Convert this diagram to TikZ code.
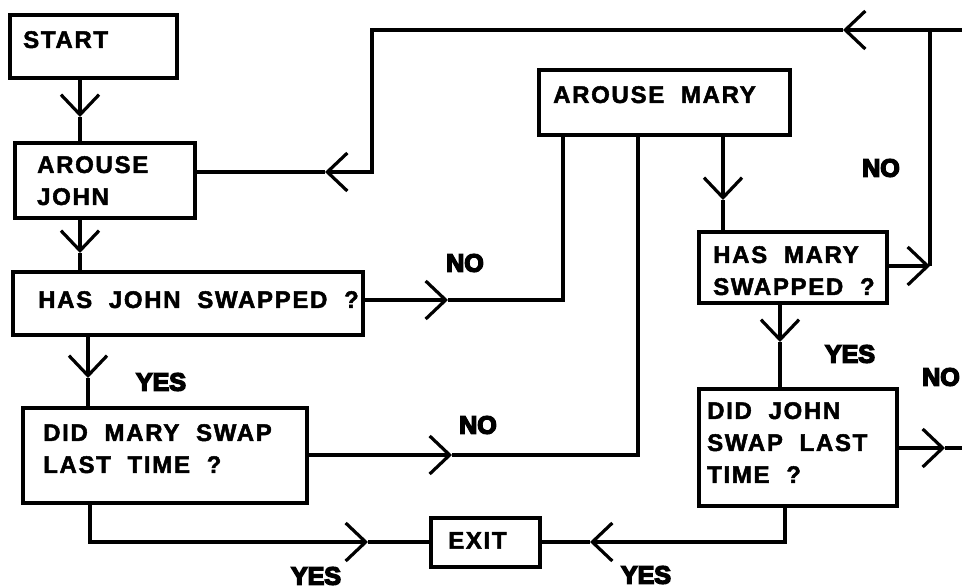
\documentclass[tikz,border=0pt]{standalone}
\usepackage{fontspec}
\setmainfont{Liberation Sans}
\newfontfamily\boxfont{Liberation Sans Bold}[LetterSpace=7, FakeBold=2]
\newfontfamily\tagfont{Liberation Sans Bold}[FakeBold=6]
\usetikzlibrary{arrows.meta}

\tikzset{
  box/.style={draw, line width=3.2pt, rectangle, anchor=north west, inner sep=0pt, outer sep=0pt},
  boxtext/.style={anchor=north west, align=left, inner sep=0pt, font=\boxfont\fontsize{24}{32}\selectfont},
  tag/.style={inner sep=0pt, font=\tagfont\fontsize{25}{25}\selectfont},
  wire/.style={line width=3.2pt},
  flow/.style={wire, -{Straight Barb[length=20pt, width=38pt]}}
}

\begin{document}
\begin{tikzpicture}[x=1pt, y=-1pt]
  \useasboundingbox (0,0) rectangle (962,588);
  % boxes
  \node[box, minimum width=167pt, minimum height=63pt]  (start) at (10,15)   {};
  \node[box, minimum width=180pt, minimum height=75pt]  (aj)    at (15,143)  {};
  \node[box, minimum width=350pt, minimum height=63pt]  (hjs)   at (13,272)  {};
  \node[box, minimum width=284pt, minimum height=95pt]  (dms)   at (23,408)  {};
  \node[box, minimum width=109pt, minimum height=49pt]  (exit)  at (431,518) {};
  \node[box, minimum width=251pt, minimum height=65pt]  (am)    at (539,70)  {};
  \node[box, minimum width=188pt, minimum height=71pt]  (hms)   at (699,232) {};
  \node[box, minimum width=198pt, minimum height=117pt] (djs)   at (699,389) {};
  % box texts
  \node[boxtext] (startT) at (23,31)   {START};
  \node[boxtext] (ajT)    at (37,156)  {AROUSE\\JOHN};
  \node[boxtext] (hjsT)   at (38,291)  {HAS~~JOHN~~SWAPPED~~?};
  \node[boxtext] (dmsT)   at (43,424)  {DID~~MARY~~SWAP\\LAST~~TIME~~?};
  \node[boxtext] (exitT)  at (448,532) {EXIT};
  \node[boxtext] (amT)    at (553,86)  {AROUSE~~MARY};
  \node[boxtext] (hmsT)   at (713,246) {HAS~~MARY\\SWAPPED~~?};
  \node[boxtext] (djsT)   at (707,402) {DID~~JOHN\\SWAP~~LAST\\TIME~~?};
  % arrow points
  \coordinate (m1) at (80,117);
  \coordinate (m2) at (80,253);
  \coordinate (m3) at (88,378);
  \coordinate (m4) at (723,200);
  \coordinate (m5) at (780,342);
  \coordinate (n1) at (448,300);
  \coordinate (n2) at (452,455);
  \coordinate (n3) at (930,266);
  \coordinate (n4) at (843,30);
  \coordinate (n5) at (325,172);
  \coordinate (n6) at (945,448);
  \coordinate (y1) at (590,542);
  \coordinate (y2) at (368,542);
  \coordinate (feed) at (962,30);
  \coordinate (away) at (962,448);
  % main column
  \draw[flow] (m1 |- start.south) -- (m1);
  \draw[wire] (m1) -- (m1 |- aj.north);
  \draw[flow] (m2 |- aj.south) -- (m2);
  \draw[wire] (m2) -- (m2 |- hjs.north);
  \draw[flow] (m3 |- hjs.south) -- (m3);
  \draw[wire] (m3) -- (m3 |- dms.north);
  % NO branches to arouse mary
  \draw[flow] (hjs.east |- n1) -- (n1);
  \draw[wire] (n1) -| ([xshift=24pt]am.south west);
  \draw[flow] (dms.east |- n2) -- (n2);
  \draw[wire] (n2) -| ([xshift=99pt]am.south west);
  % mary column
  \draw[flow] (m4 |- am.south) -- (m4);
  \draw[wire] (m4) -- (m4 |- hms.north);
  \draw[flow] (m5 |- hms.south) -- (m5);
  \draw[wire] (m5) -- (m5 |- djs.north);
  % loop back to arouse john
  \draw[flow] (hms.east |- n3) -- (n3);
  \draw[wire] (n3) -- (n3 |- feed);
  \draw[flow] (feed) -- (n4);
  \draw[flow] (n4) -- (372,30) |- (n5);
  \draw[wire] (n5) -- (aj.east |- n5);
  \draw[flow] (djs.east |- n6) -- (n6);
  \draw[wire] (n6) -- (away);
  % YES to exit
  \draw[flow] ([xshift=86pt]djs.south west) |- (y1);
  \draw[wire] (y1) -- (exit.east |- y1);
  \draw[flow] ([xshift=67pt]dms.south west) |- (y2);
  \draw[wire] (y2) -- (exit.west |- y2);
  % labels
  \node[tag] (no1)  at (881,168) {NO};
  \node[tag] (no2)  at (465,263) {NO};
  \node[tag] (yes1) at (161,382) {YES};
  \node[tag] (no3)  at (478,425) {NO};
  \node[tag] (yes2) at (316,576) {YES};
  \node[tag] (yes3) at (850,354) {YES};
  \node[tag] (no4)  at (941,377) {NO};
  \node[tag] (yes4) at (646,575) {YES};
\end{tikzpicture}
\end{document}
